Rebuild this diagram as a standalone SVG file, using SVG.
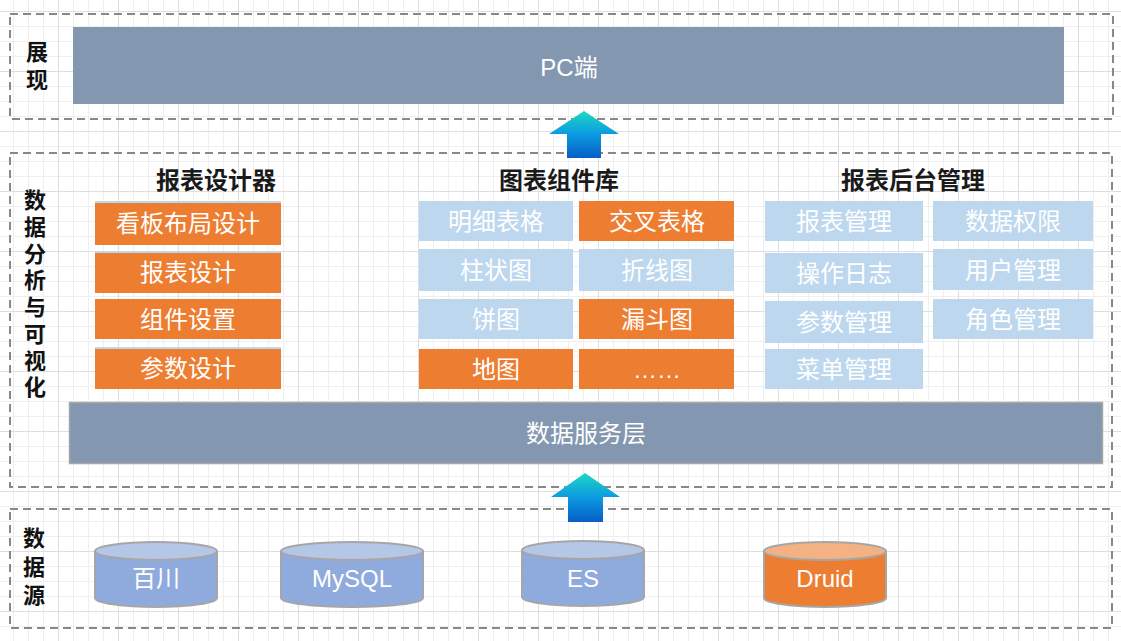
<svg xmlns="http://www.w3.org/2000/svg" width="1121" height="641" viewBox="0 0 1121 641">
<defs>
<pattern id="grid" patternUnits="userSpaceOnUse" x="58" y="11" width="60" height="60">
<rect width="60" height="60" fill="#ffffff"/>
<path d="M15.5,0V60M30.5,0V60M45.5,0V60M0,15.5H60M0,30.5H60M0,45.5H60" stroke="#efefef" stroke-width="1" fill="none"/>
<path d="M0.5,0V60M0,0.5H60" stroke="#dedede" stroke-width="1" fill="none"/>
</pattern>
<linearGradient id="arrowGrad" x1="0" y1="0" x2="0" y2="1">
<stop offset="0" stop-color="#1ED8C4"/>
<stop offset="0.5" stop-color="#0C9AE0"/>
<stop offset="1" stop-color="#075EC6"/>
</linearGradient>
<style>
.frame{fill:none;stroke:#888888;stroke-width:2;stroke-dasharray:8 5}
.bar{fill:#8497B0}
.orange{fill:#ED7D31}
.blue{fill:#BDD7EE}
.lbl{font-family:"Liberation Sans","Noto Sans CJK SC",sans-serif;font-size:24px;fill:#ffffff;text-anchor:middle;dominant-baseline:central}
.head{font-family:"Noto Sans CJK SC",sans-serif;font-size:24px;font-weight:bold;fill:#1a1a1a;text-anchor:middle;dominant-baseline:central}
.side{font-family:"Noto Sans CJK SC",sans-serif;font-size:22px;font-weight:bold;fill:#111111;writing-mode:vertical-rl;text-anchor:start}
.cylb{fill:#8FAADC;stroke:#A6A6A6;stroke-width:2}
.cylt{fill:#B4C7E7;stroke:#A6A6A6;stroke-width:2}
.cylbo{fill:#ED7D31;stroke:#A6A6A6;stroke-width:2}
.cylto{fill:#F4B183;stroke:#A6A6A6;stroke-width:2}
.topline{stroke:#BDD7EE;stroke-width:2}
</style>
</defs>
<rect width="1121" height="641" fill="url(#grid)"/>

<g id="layer-display">
<rect class="frame" x="10" y="14" width="1103" height="105"/>
<text class="side" x="37" y="41" style="letter-spacing:6px">展现</text>
</g>
<g id="pc">
<rect class="bar" x="73" y="27" width="991" height="77"/>
<text class="lbl" x="569" y="67">PC端</text>
</g>

<g id="layer-analysis">
<rect class="frame" x="10" y="153" width="1102" height="334"/>
<text class="side" x="35" y="189" style="letter-spacing:4.7px">数据分析与可视化</text>
</g>

<g id="designer">
<text class="head" x="216" y="178">报表设计器</text>
<rect class="orange" x="95" y="202" width="186" height="43"/><line class="topline" x1="95" y1="202" x2="281" y2="202"/>
<text class="lbl" x="188" y="223">看板布局设计</text>
<rect class="orange" x="95" y="252" width="186" height="41"/><line class="topline" x1="95" y1="252" x2="281" y2="252"/>
<text class="lbl" x="188" y="272">报表设计</text>
<rect class="orange" x="95" y="299" width="186" height="40"/>
<text class="lbl" x="188" y="319">组件设置</text>
<rect class="orange" x="95" y="348" width="186" height="41"/><line class="topline" x1="95" y1="348" x2="281" y2="348"/>
<text class="lbl" x="188" y="368">参数设计</text>
</g>

<g id="components">
<text class="head" x="559" y="178">图表组件库</text>
<rect class="blue" x="419" y="201" width="154" height="40"/><text class="lbl" x="496" y="221">明细表格</text>
<rect class="orange" x="579" y="201" width="155" height="40"/><text class="lbl" x="657" y="221">交叉表格</text>
<rect class="blue" x="419" y="249" width="154" height="42"/><text class="lbl" x="496" y="270">柱状图</text>
<rect class="blue" x="579" y="249" width="155" height="42"/><text class="lbl" x="657" y="270">折线图</text>
<rect class="blue" x="419" y="299" width="154" height="40"/><text class="lbl" x="496" y="319">饼图</text>
<rect class="orange" x="579" y="299" width="155" height="40"/><text class="lbl" x="657" y="319">漏斗图</text>
<rect class="orange" x="419" y="349" width="154" height="40"/><text class="lbl" x="496" y="369">地图</text>
<rect class="orange" x="579" y="349" width="155" height="40"/><text class="lbl" x="657" y="369">……</text>
</g>

<g id="admin">
<text class="head" x="913" y="178">报表后台管理</text>
<rect class="blue" x="765" y="201" width="158" height="40"/><text class="lbl" x="844" y="221">报表管理</text>
<rect class="blue" x="765" y="253" width="158" height="40"/><text class="lbl" x="844" y="273">操作日志</text>
<rect class="blue" x="765" y="301" width="158" height="42"/><text class="lbl" x="844" y="322">参数管理</text>
<rect class="blue" x="765" y="349" width="158" height="40"/><text class="lbl" x="844" y="369">菜单管理</text>
<rect class="blue" x="933" y="201" width="160" height="40"/><text class="lbl" x="1013" y="221">数据权限</text>
<rect class="blue" x="933" y="249" width="160" height="41"/><text class="lbl" x="1013" y="270">用户管理</text>
<rect class="blue" x="933" y="299" width="160" height="40"/><text class="lbl" x="1013" y="319">角色管理</text>
</g>

<g id="data-service">
<rect class="bar" x="69.5" y="402.5" width="1033" height="61" stroke="#A6A6A6" stroke-width="1.5"/>
<text class="lbl" x="586" y="433">数据服务层</text>
</g>

<g id="layer-source">
<rect class="frame" x="10" y="509" width="1102" height="119"/>
<text class="side" x="34" y="527" style="letter-spacing:6.5px">数据源</text>
</g>

<g id="db-baichuan">
<path class="cylb" d="M95,551V598A61,9 0 0 0 217,598V551"/>
<ellipse class="cylt" cx="156" cy="551" rx="61" ry="9"/>
<text class="lbl" x="156" y="578">百川</text>
</g>
<g id="db-mysql">
<path class="cylb" d="M281,551V598A71,9 0 0 0 423,598V551"/>
<ellipse class="cylt" cx="352" cy="551" rx="71" ry="9"/>
<text class="lbl" x="352" y="578">MySQL</text>
</g>
<g id="db-es">
<path class="cylb" d="M522,550V597A61,9 0 0 0 644,597V550"/>
<ellipse class="cylt" cx="583" cy="550" rx="61" ry="9"/>
<text class="lbl" x="583" y="578">ES</text>
</g>
<g id="db-druid">
<path class="cylbo" d="M764,551V598A61,9 0 0 0 886,598V551"/>
<ellipse class="cylto" cx="825" cy="551" rx="61" ry="9"/>
<text class="lbl" x="825" y="578">Druid</text>
</g>

<g id="connectors">
<polygon points="584,111 619,134 601,134 601,158 567,158 567,134 549,134" fill="url(#arrowGrad)"/>
<polygon points="585,473 620,497 603,497 603,522 568,522 568,497 551,497" fill="url(#arrowGrad)"/>
</g>
</svg>
